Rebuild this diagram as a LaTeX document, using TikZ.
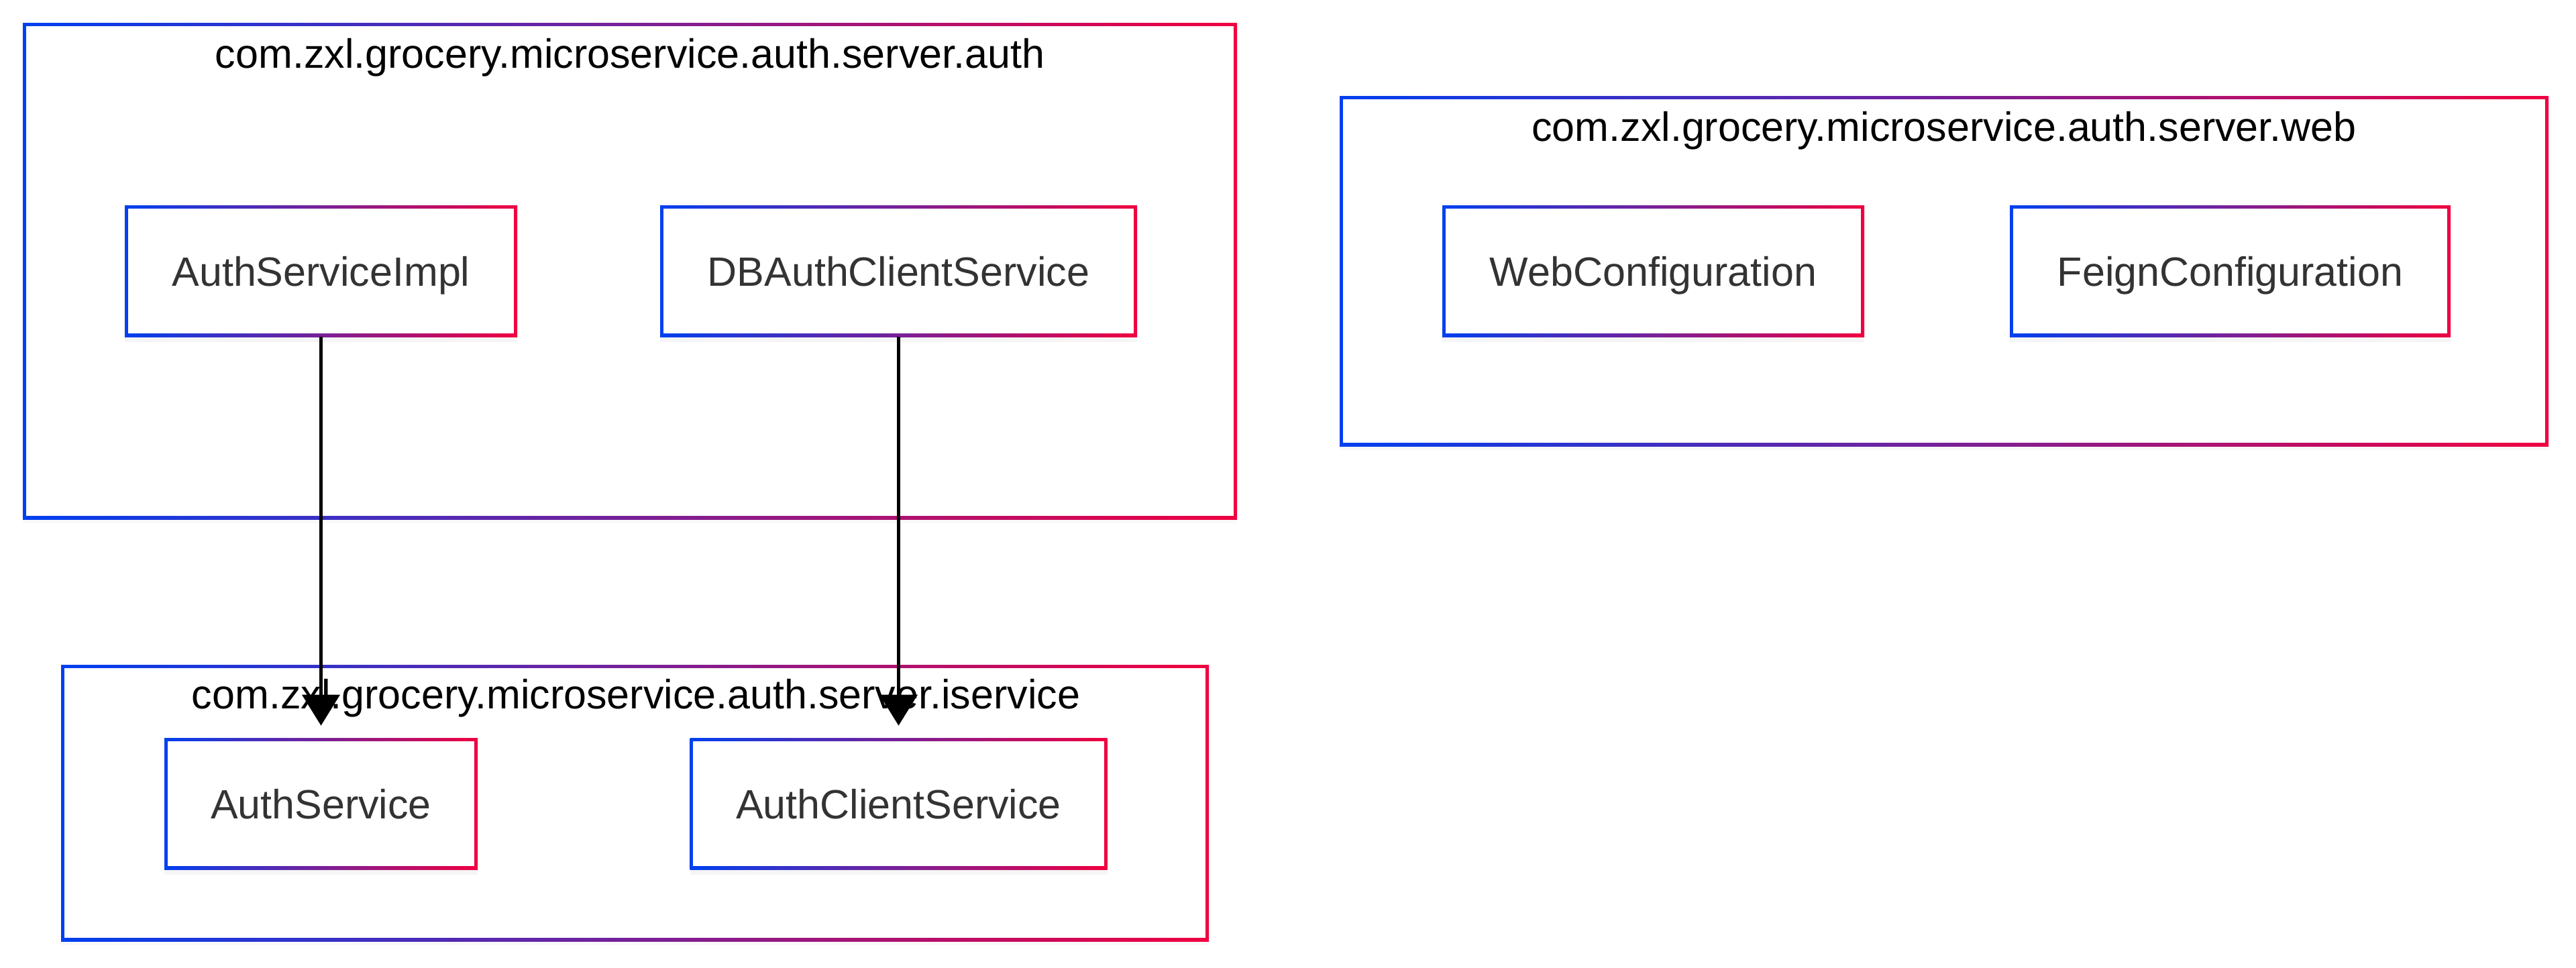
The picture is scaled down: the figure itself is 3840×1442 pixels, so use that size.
\documentclass[tikz,border=0pt]{standalone}
\usepackage{fontspec}
\setmainfont{Liberation Sans}
\usetikzlibrary{arrows.meta,calc,shadows}

\definecolor{gblue}{HTML}{0040F0}
\definecolor{gred}{HTML}{F00040}
\definecolor{txtgray}{HTML}{333333}

\begin{document}
\begin{tikzpicture}[
        x=0.5pt, y=-0.5pt,
        gradbox/.style = {rectangle, inner sep=0pt, left color=gblue, right color=gred,
            path picture={\fill[white] ($(path picture bounding box.south west)+(2.3pt,2.3pt)$)
                rectangle ($(path picture bounding box.north east)+(-2.3pt,-2.3pt)$);}},
        pkg/.style = {gradbox, drop shadow={shadow xshift=0pt, shadow yshift=-3pt, opacity=0.05}},
        cls/.style = {gradbox, minimum height=98pt, text=txtgray, font=\fontsize{30.5}{36}\selectfont,
            text height=22pt, text depth=0pt,
            drop shadow={shadow xshift=0pt, shadow yshift=-4pt, opacity=0.08}},
        pkgtitle/.style = {inner sep=0pt, font=\fontsize{30.5}{36}\selectfont},
        dep/.style = {line width=2.1pt, -{Triangle[width=28pt, length=23pt]}, shorten >=9pt}
        ]
        \useasboundingbox (0,0) rectangle (3840,1442);

        % packages
        \node[pkg, minimum width=905pt, minimum height=370pt] (authpkg) at (939,404) {};
        \node[pkg, minimum width=901pt, minimum height=261pt] (webpkg) at (2898,404) {};
        \node[pkg, minimum width=855.5pt, minimum height=206pt] (svcpkg) at (946.5,1197) {};

        \node[pkgtitle] (authtitle) at (939,86) {com.zxl.grocery.microservice.auth.server.auth};
        \node[pkgtitle] (webtitle) at (2898,195) {com.zxl.grocery.microservice.auth.server.web};
        \node[pkgtitle] (svctitle) at (948,1041) {com.zxl.grocery.microservice.auth.server.iservice};

        % classes
        \node[cls, minimum width=292.5pt] (impl) at (478.5,404) {AuthServiceImpl};
        \node[cls, minimum width=355.5pt] (dbclient) at (1339.5,404) {DBAuthClientService};
        \node[cls, minimum width=314.5pt] (webconf) at (2464.5,404) {WebConfiguration};
        \node[cls, minimum width=328.5pt] (feignconf) at (3324.5,404) {FeignConfiguration};
        \node[cls, minimum width=233.5pt] (svc) at (478.5,1198) {AuthService};
        \node[cls, minimum width=311pt] (clientsvc) at (1339.5,1198) {AuthClientService};

        \draw[dep] (impl.south) -- (impl.south |- svc.north);
        \draw[dep] (dbclient.south) -- (dbclient.south |- clientsvc.north);
    \end{tikzpicture}
\end{document}
